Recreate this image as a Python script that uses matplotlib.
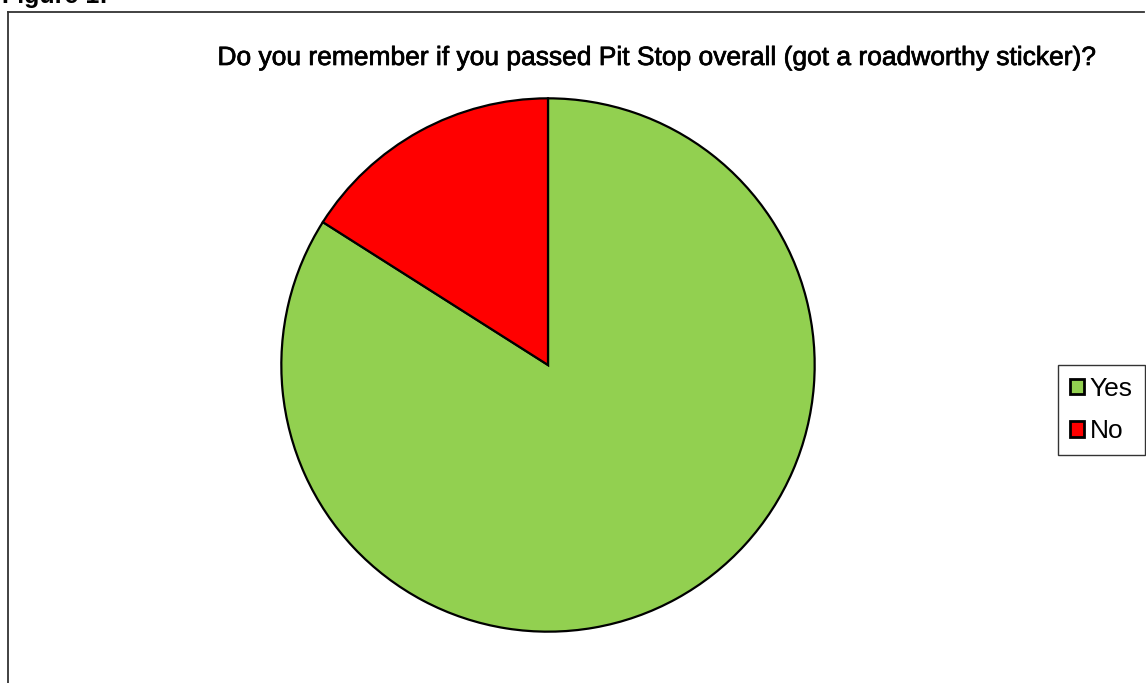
import matplotlib
matplotlib.use("Agg")
import matplotlib.pyplot as plt
from matplotlib.lines import Line2D
from matplotlib.patches import Rectangle
import matplotlib.patheffects as pe

categories = ["Yes", "No"]
values = [84, 16]
colors = ["#92d050", "#ff0000"]
title = "Do you remember if you passed Pit Stop overall (got a roadworthy sticker)?"
fig_label = "Figure 1:"

W, H = 1146, 683
fig = plt.figure(figsize=(W / 100, H / 100), dpi=100)
plt.rcParams['font.family'] = ['Liberation Sans', 'DejaVu Sans']

# outer frame (extends beyond right and bottom edges)
fig.add_artist(Line2D([8 / W, 8 / W], [0, 1 - 12 / H], transform=fig.transFigure,
                      color="#333333", lw=1.3))
fig.add_artist(Line2D([8 / W, 1144 / W], [1 - 12 / H, 1 - 12 / H], transform=fig.transFigure,
                      color="#333333", lw=1.3))

# cut-off figure label at top-left
fig.text(2 / W, 1 - 3 / H, fig_label, fontsize=18, fontweight="bold",
         ha="left", va="baseline")

thick = [pe.withStroke(linewidth=0.5, foreground="black")]
fig.text(657 / W, 1 - 58 / H, title, fontsize=19, ha="center", va="center",
         path_effects=thick)

cx, cy, r = 548, 365, 268
ax = fig.add_axes([(cx - r) / W, (H - cy - r) / H, 2 * r / W, 2 * r / H])
wedges, _ = ax.pie(values, colors=colors, startangle=90, counterclock=False,
                   wedgeprops=dict(edgecolor="black", linewidth=1.6))
ax.set_xlim(-1.005, 1.005)
ax.set_ylim(-1.005, 1.005)
ax.set_aspect("equal")
ax.axis("off")

handles = [Rectangle((0, 0), 1, 1, facecolor=c, edgecolor="black", lw=2.0) for c in colors]
leg = fig.legend(handles, categories, loc="upper left",
                 bbox_to_anchor=(1058 / W, 1 - 365 / H), fontsize=19,
                 frameon=True, fancybox=False, edgecolor="black",
                 handlelength=0.55, handleheight=0.55, handletextpad=0.2,
                 labelspacing=0.7, borderpad=0.45, borderaxespad=0)
leg.get_frame().set_linewidth(1.0)

fig.savefig("out.png", dpi=100)
